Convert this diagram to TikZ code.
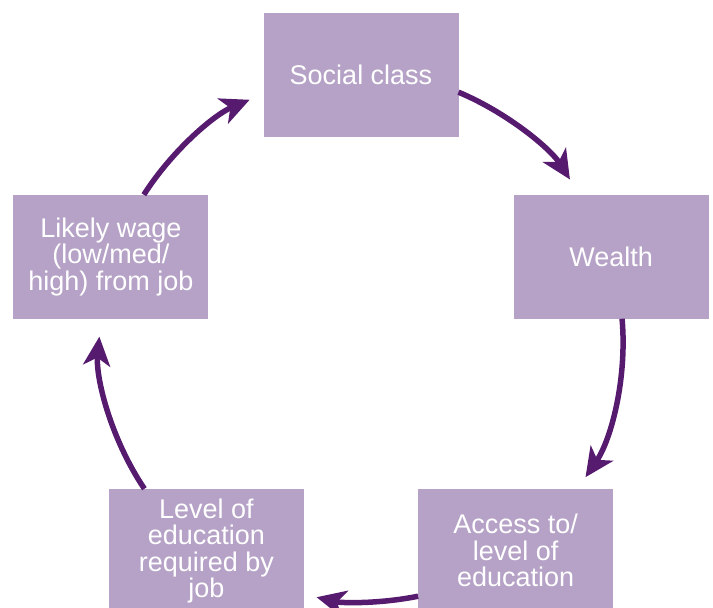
\documentclass[tikz,border=0pt]{standalone}
\usepackage{fontspec}
\setmainfont{Liberation Sans}
\usepackage{xcolor}
\usetikzlibrary{arrows.meta,calc}

\definecolor{boxlilac}{HTML}{B5A2C6}
\definecolor{arrowplum}{HTML}{561A6E}

\begin{document}
\begin{tikzpicture}[x=1pt, y=1pt,
  stage/.style={fill=boxlilac, text=white, minimum width=195pt,
                minimum height=124pt, inner sep=2pt, outer sep=0pt,
                align=center, font=\fontsize{27}{26.5}\selectfont},
  arr/.style={-{Stealth[length=29pt, width=27pt, inset=8pt]}, line width=5.5pt,
              arrowplum, looseness=0.87}
]
  \useasboundingbox (0,0) rectangle (713,608);
  \coordinate (ctr) at (361,270);

  % five stages round the cycle
  \node[stage] (social) at ($(ctr)+(90:263)$) {Social class};
  \node[stage] (wealth) at ($(ctr)+(18:263)$) {Wealth};
  \node[stage] (access) at ($(ctr)+(-54:263)$) {Access to/\\level of\\education};
  \node[stage] (level)  at ($(ctr)+(-126:263)$) {Level of\\education\\required by\\job};
  \node[stage] (wage)   at ($(ctr)+(162:263)$) {Likely wage\\(low/med/\\high) from job};

  % clockwise arrows
  \draw[arr, shorten >=18pt] (social.-10.7) to[bend left=17.5] (wealth.117.4);
  \draw[arr, shorten >=14pt] (wealth.-80.2) to[bend left=19.7] (access.45.2);
  \draw[arr, shorten >=13pt] (access.-155.3) to[bend left=12.4] (level.-24.8);
  \draw[arr, shorten >=18pt] (level.135.2) to[bend left=19.7] (wage.-99.8);
  \draw[arr, shorten >=15pt] (wage.62.6) to[bend left=17.3] (social.-169);
\end{tikzpicture}
\end{document}
